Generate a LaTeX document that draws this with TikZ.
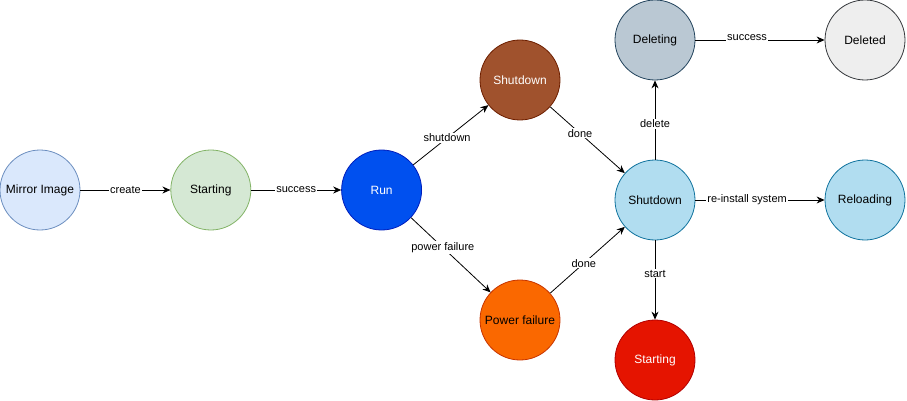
\documentclass[tikz,border=0pt]{standalone}
\usepackage{fontspec}
\setmainfont{Liberation Sans}
\usepackage{tikz}
\usetikzlibrary{arrows.meta,positioning,calc}
\def \gapX {90pt}
\definecolor{imgfill}{HTML}{DAE8FC}  \definecolor{imgline}{HTML}{6C8EBF}
\definecolor{stfill}{HTML}{D5E8D4}   \definecolor{stline}{HTML}{82B366}
\definecolor{runfill}{HTML}{0050EF}  \definecolor{runline}{HTML}{001DBC}
\definecolor{sdfill}{HTML}{A0522D}   \definecolor{sdline}{HTML}{6D1F00}
\definecolor{pffill}{HTML}{FA6800}   \definecolor{pfline}{HTML}{C73500}
\definecolor{offfill}{HTML}{B1DDF0}  \definecolor{offline}{HTML}{10739E}
\definecolor{delfill}{HTML}{BAC8D3}  \definecolor{delline}{HTML}{23445D}
\definecolor{gonefill}{HTML}{EEEEEE} \definecolor{goneline}{HTML}{36393D}
\definecolor{redfill}{HTML}{E51400}  \definecolor{redline}{HTML}{B20000}
\tikzset{
 	state/.style= {draw, circle, align=center, minimum size=80pt, inner sep=0pt, line width=0.8pt, font=\fontsize{12}{14}\selectfont},
 	flow/.style= {-{Stealth[length=8pt,width=7pt]}, line width=0.8pt},
 	lbl/.style= {fill=white, inner sep=1pt, font=\fontsize{11}{13}\selectfont}
 }

\begin{document}
\begin{tikzpicture}[x=1pt, y=-1pt]
	\useasboundingbox (0,0) rectangle (907,401);

%%%%%%%%%%%%%%%%%%%%% Nodes %%%%%%%%%%%%%%%%%%%%%
	\node [state, fill=imgfill, draw=imgline] (mirror) at (40,190) {Mirror Image};
	\node [state, fill=stfill, draw=stline, right = \gapX of mirror] (starting) {Starting};
	\node [state, fill=runfill, draw=runline, text=white, right = \gapX of starting] (run) {Run};
	\node [state, fill=sdfill, draw=sdline, text=white] (shutdown) at (520,80) {Shutdown};
	\node [state, fill=pffill, draw=pfline] (powerfail) at (520,320) {Power failure};
	\node [state, fill=offfill, draw=offline] (stopped) at (655,200) {Shutdown};
	\node [state, fill=delfill, draw=delline] (deleting) at (655,40) {Deleting};
	\node [state, fill=gonefill, draw=goneline] (deleted) at (865,40) {Deleted};
	\node [state, fill=offfill, draw=offline] (reloading) at (865,200) {Reloading};
	\node [state, fill=redfill, draw=redline, text=white] (restart) at (655,360) {Starting};

%%%%%%%%%%%%%%%%%%%%% Edges %%%%%%%%%%%%%%%%%%%%%
	\draw [flow] (mirror) -- node [lbl] {create} (starting);
	\draw [flow] (starting) -- node [lbl] {success} (run);
	\draw [flow] (run) -- node [lbl, pos=0.45] {shutdown} (shutdown);
	\draw [flow] (run) -- node [lbl, pos=0.4] {power failure} (powerfail);
	\draw [flow] (shutdown) -- node [lbl, pos=0.4] {done} (stopped);
	\draw [flow] (powerfail) -- node [lbl, pos=0.45] {done} (stopped);
	\draw [flow] (stopped) -- node [lbl, pos=0.45] {delete} (deleting);
	\draw [flow] (deleting) -- node [lbl, pos=0.4, yshift=2pt] {success} (deleted);
	\draw [flow] (stopped) -- node [lbl, pos=0.4] {re-install system} (reloading);
	\draw [flow] (stopped) -- node [lbl, pos=0.42] {start} (restart);

\end{tikzpicture}
\end{document}
